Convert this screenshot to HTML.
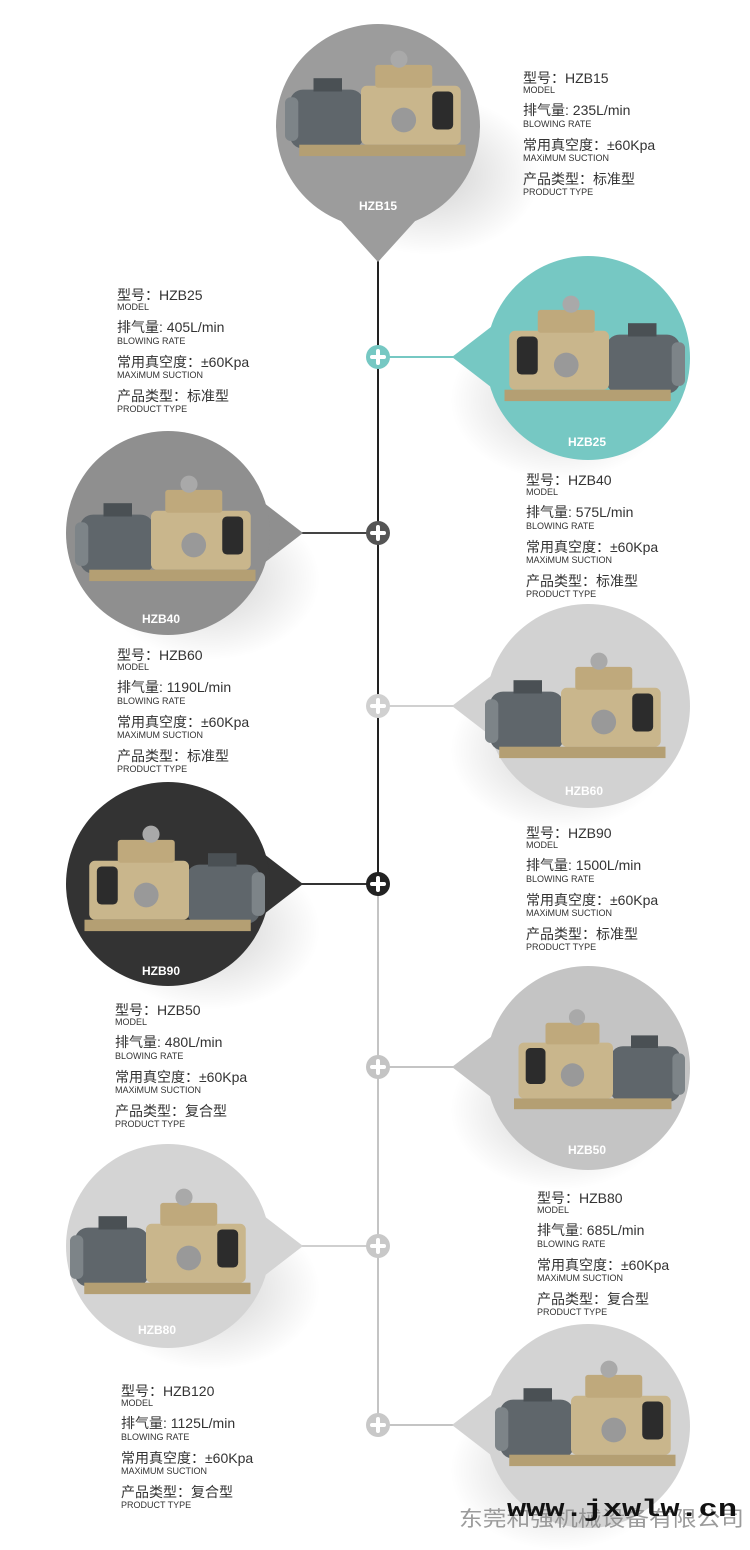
<!DOCTYPE html>
<html><head><meta charset="utf-8"><style>
html,body{margin:0;padding:0;background:#fff;width:750px;height:1550px;overflow:hidden}
svg{display:block}
.c{font-family:"Liberation Sans","Noto Sans CJK SC",sans-serif;font-size:14px;fill:#333}
.e{font-family:"Liberation Sans",sans-serif;font-size:9px;fill:#333}
.l{font-family:"Liberation Sans",sans-serif;font-size:12px;font-weight:bold;fill:#fff}
</style></head><body>
<svg width="750" height="1550" viewBox="0 0 750 1550" xmlns="http://www.w3.org/2000/svg">
<defs>
<radialGradient id="sh" cx="0.5" cy="0.5" r="0.5"><stop offset="0" stop-color="#000" stop-opacity="0.18"/><stop offset="1" stop-color="#000" stop-opacity="0"/></radialGradient>
<g id="pump">
 <rect x="-95" y="-32" width="78" height="62" rx="14" fill="#5f666b"/>
 <rect x="-100" y="-24" width="14" height="46" rx="6" fill="#7d8488"/>
 <rect x="-70" y="-44" width="30" height="14" fill="#4a5054"/>
 <rect x="-20" y="-36" width="105" height="62" rx="6" fill="#c9b68c"/>
 <rect x="-5" y="-58" width="60" height="24" rx="3" fill="#bfa97c"/>
 <circle cx="20" cy="-64" r="9" fill="#a9a9a9"/>
 <rect x="55" y="-30" width="22" height="40" rx="5" fill="#2c2c2c"/>
 <circle cx="25" cy="0" r="13" fill="#999"/>
 <rect x="-85" y="26" width="175" height="12" fill="#b49f73"/>
</g>
</defs>

<line x1="378" y1="250" x2="378" y2="884" stroke="#222" stroke-width="2"/>
<line x1="378" y1="884" x2="378" y2="1430" stroke="#c4c4c4" stroke-width="2"/>

<ellipse cx="430" cy="175" rx="110" ry="80" fill="url(#sh)"/>
<ellipse cx="560" cy="400" rx="110" ry="80" fill="url(#sh)"/>
<ellipse cx="210" cy="580" rx="110" ry="80" fill="url(#sh)"/>
<ellipse cx="560" cy="750" rx="110" ry="80" fill="url(#sh)"/>
<ellipse cx="210" cy="930" rx="110" ry="80" fill="url(#sh)"/>
<ellipse cx="560" cy="1110" rx="110" ry="80" fill="url(#sh)"/>
<ellipse cx="210" cy="1290" rx="110" ry="80" fill="url(#sh)"/>
<ellipse cx="560" cy="1470" rx="110" ry="80" fill="url(#sh)"/>

<circle cx="378" cy="126" r="102" fill="#9c9c9c"/>
<path d="M340 220 L378 262 L416 220 Z" fill="#9c9c9c"/>
<use href="#pump" transform="translate(380,120) scale(0.95)"/>
<text class="l" x="378" y="210" text-anchor="middle">HZB15</text>

<line x1="378" y1="357" x2="460" y2="357" stroke="#76c8c3" stroke-width="2"/>
<path d="M500 320 L452 357 L500 394 Z" fill="#76c8c3"/>
<circle cx="588" cy="358" r="102" fill="#76c8c3"/>
<use href="#pump" transform="translate(590,365) scale(-0.95,0.95)"/>
<text class="l" x="587" y="446" text-anchor="middle">HZB25</text>
<circle cx="378" cy="357" r="12" fill="#76c8c3"/>

<line x1="300" y1="533" x2="378" y2="533" stroke="#444" stroke-width="2"/>
<path d="M255 496 L303 533 L255 570 Z" fill="#8f8f8f"/>
<circle cx="168" cy="533" r="102" fill="#8f8f8f"/>
<use href="#pump" transform="translate(170,545) scale(0.95)"/>
<text class="l" x="161" y="623" text-anchor="middle">HZB40</text>
<circle cx="378" cy="533" r="12" fill="#555"/>

<line x1="378" y1="706" x2="460" y2="706" stroke="#d0d0d0" stroke-width="2"/>
<path d="M500 669 L452 706 L500 743 Z" fill="#d2d2d2"/>
<circle cx="588" cy="706" r="102" fill="#d2d2d2"/>
<use href="#pump" transform="translate(580,722) scale(0.95)"/>
<text class="l" x="584" y="795" text-anchor="middle">HZB60</text>
<circle cx="378" cy="706" r="12" fill="#d0d0d0"/>

<line x1="300" y1="884" x2="378" y2="884" stroke="#333" stroke-width="2"/>
<path d="M255 847 L303 884 L255 921 Z" fill="#333"/>
<circle cx="168" cy="884" r="102" fill="#333"/>
<use href="#pump" transform="translate(170,895) scale(-0.95,0.95)"/>
<text class="l" x="161" y="975" text-anchor="middle">HZB90</text>
<circle cx="378" cy="884" r="12" fill="#222"/>

<line x1="378" y1="1067" x2="460" y2="1067" stroke="#c4c4c4" stroke-width="2"/>
<path d="M500 1030 L452 1067 L500 1104 Z" fill="#c4c4c4"/>
<circle cx="588" cy="1068" r="102" fill="#c4c4c4"/>
<use href="#pump" transform="translate(595,1075) scale(-0.9,0.9)"/>
<text class="l" x="587" y="1154" text-anchor="middle">HZB50</text>
<circle cx="378" cy="1067" r="12" fill="#c4c4c4"/>

<line x1="300" y1="1246" x2="378" y2="1246" stroke="#cfcfcf" stroke-width="2"/>
<path d="M255 1209 L303 1246 L255 1283 Z" fill="#d4d4d4"/>
<circle cx="168" cy="1246" r="102" fill="#d4d4d4"/>
<use href="#pump" transform="translate(165,1258) scale(0.95)"/>
<text class="l" x="157" y="1334" text-anchor="middle">HZB80</text>
<circle cx="378" cy="1246" r="12" fill="#c8c8c8"/>

<line x1="378" y1="1425" x2="460" y2="1425" stroke="#c4c4c4" stroke-width="2"/>
<path d="M500 1388 L452 1425 L500 1462 Z" fill="#d3d3d3"/>
<circle cx="588" cy="1426" r="102" fill="#d3d3d3"/>
<use href="#pump" transform="translate(590,1430) scale(0.95)"/>
<circle cx="378" cy="1425" r="12" fill="#c8c8c8"/>

<g stroke="#fff" stroke-width="4" stroke-linecap="round">
<path d="M378 351v12M372 357h12"/>
<path d="M378 527v12M372 533h12"/>
<path d="M378 700v12M372 706h12"/>
<path d="M378 878v12M372 884h12"/>
<path d="M378 1061v12M372 1067h12"/>
<path d="M378 1240v12M372 1246h12"/>
<path d="M378 1419v12M372 1425h12"/>
</g>

<g>
<text class="c" x="523" y="83">型号：HZB15</text><text class="e" x="523" y="93">MODEL</text>
<text class="c" x="523" y="115">排气量: 235L/min</text><text class="e" x="523" y="127">BLOWING RATE</text>
<text class="c" x="523" y="150">常用真空度：±60Kpa</text><text class="e" x="523" y="161">MAXiMUM SUCTION</text>
<text class="c" x="523" y="184">产品类型：标准型</text><text class="e" x="523" y="195">PRODUCT TYPE</text>
</g>
<g>
<text class="c" x="117" y="300">型号：HZB25</text><text class="e" x="117" y="310">MODEL</text>
<text class="c" x="117" y="332">排气量: 405L/min</text><text class="e" x="117" y="344">BLOWING RATE</text>
<text class="c" x="117" y="367">常用真空度：±60Kpa</text><text class="e" x="117" y="378">MAXiMUM SUCTION</text>
<text class="c" x="117" y="401">产品类型：标准型</text><text class="e" x="117" y="412">PRODUCT TYPE</text>
</g>
<g>
<text class="c" x="526" y="485">型号：HZB40</text><text class="e" x="526" y="495">MODEL</text>
<text class="c" x="526" y="517">排气量: 575L/min</text><text class="e" x="526" y="529">BLOWING RATE</text>
<text class="c" x="526" y="552">常用真空度：±60Kpa</text><text class="e" x="526" y="563">MAXiMUM SUCTION</text>
<text class="c" x="526" y="586">产品类型：标准型</text><text class="e" x="526" y="597">PRODUCT TYPE</text>
</g>
<g>
<text class="c" x="117" y="660">型号：HZB60</text><text class="e" x="117" y="670">MODEL</text>
<text class="c" x="117" y="692">排气量: 1190L/min</text><text class="e" x="117" y="704">BLOWING RATE</text>
<text class="c" x="117" y="727">常用真空度：±60Kpa</text><text class="e" x="117" y="738">MAXiMUM SUCTION</text>
<text class="c" x="117" y="761">产品类型：标准型</text><text class="e" x="117" y="772">PRODUCT TYPE</text>
</g>
<g>
<text class="c" x="526" y="838">型号：HZB90</text><text class="e" x="526" y="848">MODEL</text>
<text class="c" x="526" y="870">排气量: 1500L/min</text><text class="e" x="526" y="882">BLOWING RATE</text>
<text class="c" x="526" y="905">常用真空度：±60Kpa</text><text class="e" x="526" y="916">MAXiMUM SUCTION</text>
<text class="c" x="526" y="939">产品类型：标准型</text><text class="e" x="526" y="950">PRODUCT TYPE</text>
</g>
<g>
<text class="c" x="115" y="1015">型号：HZB50</text><text class="e" x="115" y="1025">MODEL</text>
<text class="c" x="115" y="1047">排气量: 480L/min</text><text class="e" x="115" y="1059">BLOWING RATE</text>
<text class="c" x="115" y="1082">常用真空度：±60Kpa</text><text class="e" x="115" y="1093">MAXiMUM SUCTION</text>
<text class="c" x="115" y="1116">产品类型：复合型</text><text class="e" x="115" y="1127">PRODUCT TYPE</text>
</g>
<g>
<text class="c" x="537" y="1203">型号：HZB80</text><text class="e" x="537" y="1213">MODEL</text>
<text class="c" x="537" y="1235">排气量: 685L/min</text><text class="e" x="537" y="1247">BLOWING RATE</text>
<text class="c" x="537" y="1270">常用真空度：±60Kpa</text><text class="e" x="537" y="1281">MAXiMUM SUCTION</text>
<text class="c" x="537" y="1304">产品类型：复合型</text><text class="e" x="537" y="1315">PRODUCT TYPE</text>
</g>
<g>
<text class="c" x="121" y="1396">型号：HZB120</text><text class="e" x="121" y="1406">MODEL</text>
<text class="c" x="121" y="1428">排气量: 1125L/min</text><text class="e" x="121" y="1440">BLOWING RATE</text>
<text class="c" x="121" y="1463">常用真空度：±60Kpa</text><text class="e" x="121" y="1474">MAXiMUM SUCTION</text>
<text class="c" x="121" y="1497">产品类型：复合型</text><text class="e" x="121" y="1508">PRODUCT TYPE</text>
</g>

<text x="459" y="1526" font-family="'Liberation Sans','Noto Sans CJK SC',sans-serif" font-size="21" fill="#8a8a8a" fill-opacity="0.85" textLength="285" lengthAdjust="spacingAndGlyphs">东莞和强机械设备有限公司</text>
<text x="507" y="1516" font-family="'Liberation Mono',monospace" font-size="24" font-weight="bold" fill="#111" textLength="230" lengthAdjust="spacingAndGlyphs">www.jxwlw.cn</text>
</svg>
</body></html>
